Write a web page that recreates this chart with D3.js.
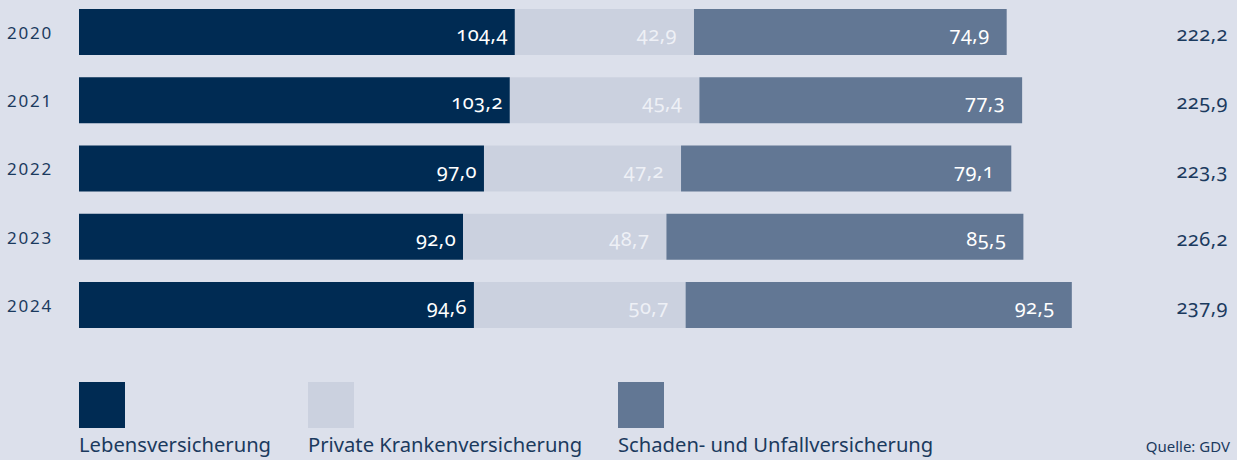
<!DOCTYPE html>
<html>
<head>
<meta charset="utf-8">
<script src="https://cdn.jsdelivr.net/npm/d3@7"></script>
<style>
  body { margin: 0; background: #dce0eb; }
  svg { display: block; font-family: "Noto Sans", "Open Sans", sans-serif; }
  .num { font-variant-numeric: oldstyle-nums; }
</style>
</head>
<body>
<div id="chart"></div>
<script>
var width = 1237, height = 460;

var years = ["2020", "2021", "2022", "2023", "2024"];
var leben = [104.4, 103.2, 97.0, 92.0, 94.6];
var kranken = [42.9, 45.4, 47.2, 48.7, 50.7];
var schaden = [74.9, 77.3, 79.1, 85.5, 92.5];
var totals = [222.2, 225.9, 223.3, 226.2, 237.9];
var seriesNames = ["Lebensversicherung", "Private Krankenversicherung", "Schaden- und Unfallversicherung"];
var colors = ["#002b53", "#cbd1df", "#627794"];
var labelColors = ["#ffffff", "#eef0f6", "#ffffff"];

var fmt = d3.formatLocale({ decimal: ",", thousands: ".", grouping: [3], currency: ["", "€"] }).format(".1f");

var svg = d3.select("#chart").append("svg")
    .attr("width", width)
    .attr("height", height);

svg.append("rect").attr("width", width).attr("height", height).attr("fill", "#dce0eb");

var x = d3.scaleLinear().domain([0, 240]).range([79, 1081]);
var y = d3.scaleBand().domain(years).range([9, 328]).paddingInner(0.326).paddingOuter(0);

// stack the three series per year
var rows = years.map(function (yr, i) {
    return { year: yr, leben: leben[i], kranken: kranken[i], schaden: schaden[i], total: totals[i] };
});
var stack = d3.stack().keys(["leben", "kranken", "schaden"])(rows);

var layers = svg.selectAll(".layer")
    .data(stack)
    .enter().append("g")
    .attr("class", "layer")
    .attr("fill", function (d, i) { return colors[i]; });

layers.selectAll("rect")
    .data(function (d) { return d; })
    .enter().append("rect")
    .attr("x", function (d) { return x(d[0]); })
    .attr("y", function (d) { return y(d.data.year); })
    .attr("width", function (d) { return x(d[1]) - x(d[0]); })
    .attr("height", y.bandwidth());

// value labels inside segments
stack.forEach(function (layer, li) {
    svg.append("g").selectAll("text")
        .data(layer)
        .enter().append("text")
        .attr("class", "num")
        .attr("x", function (d) { return x(d[1]) - (li == 0 ? 7 : 17); })
        .attr("y", function (d) { return y(d.data.year) + y.bandwidth() / 2; })
        .attr("dy", "0.45em")
        .attr("text-anchor", "end")
        .attr("fill", labelColors[li])
        .style("font-size", "20px")
        .style("letter-spacing", "0.5px")
        .text(function (d) { return fmt(d[1] - d[0]); });
});

// year labels
svg.append("g").selectAll("text")
    .data(rows)
    .enter().append("text")
    .attr("x", 7)
    .attr("y", function (d) { return y(d.year) + y.bandwidth() / 2; })
    .attr("dy", "0.4em")
    .attr("fill", "#1b3a5e")
    .style("font-size", "17px")
    .style("letter-spacing", "1.8px")
    .text(function (d) { return d.year; });

// totals on the right
svg.append("g").selectAll("text")
    .data(rows)
    .enter().append("text")
    .attr("class", "num")
    .attr("x", 1228)
    .attr("y", function (d) { return y(d.year) + y.bandwidth() / 2; })
    .attr("dy", "0.45em")
    .attr("text-anchor", "end")
    .attr("fill", "#1b3a5e")
    .style("font-size", "20px")
    .style("letter-spacing", "0.5px")
    .text(function (d) { return fmt(d.total); });

// legend
var legendX = [79, 308, 618];
var legend = svg.selectAll(".legend")
    .data(seriesNames)
    .enter().append("g")
    .attr("class", "legend")
    .attr("transform", function (d, i) { return "translate(" + legendX[i] + ",382)"; });

legend.append("rect")
    .attr("width", 46)
    .attr("height", 46)
    .attr("fill", function (d, i) { return colors[i]; });

legend.append("text")
    .attr("y", 70)
    .attr("fill", "#1b3a5e")
    .style("font-size", "20.2px")
    .text(function (d) { return d; });

svg.append("text")
    .attr("x", 1230)
    .attr("y", 452)
    .attr("text-anchor", "end")
    .attr("fill", "#1b3a5e")
    .style("font-size", "15px")
    .style("font-stretch", "condensed")
    .text("Quelle: GDV");
</script>
</body>
</html>
